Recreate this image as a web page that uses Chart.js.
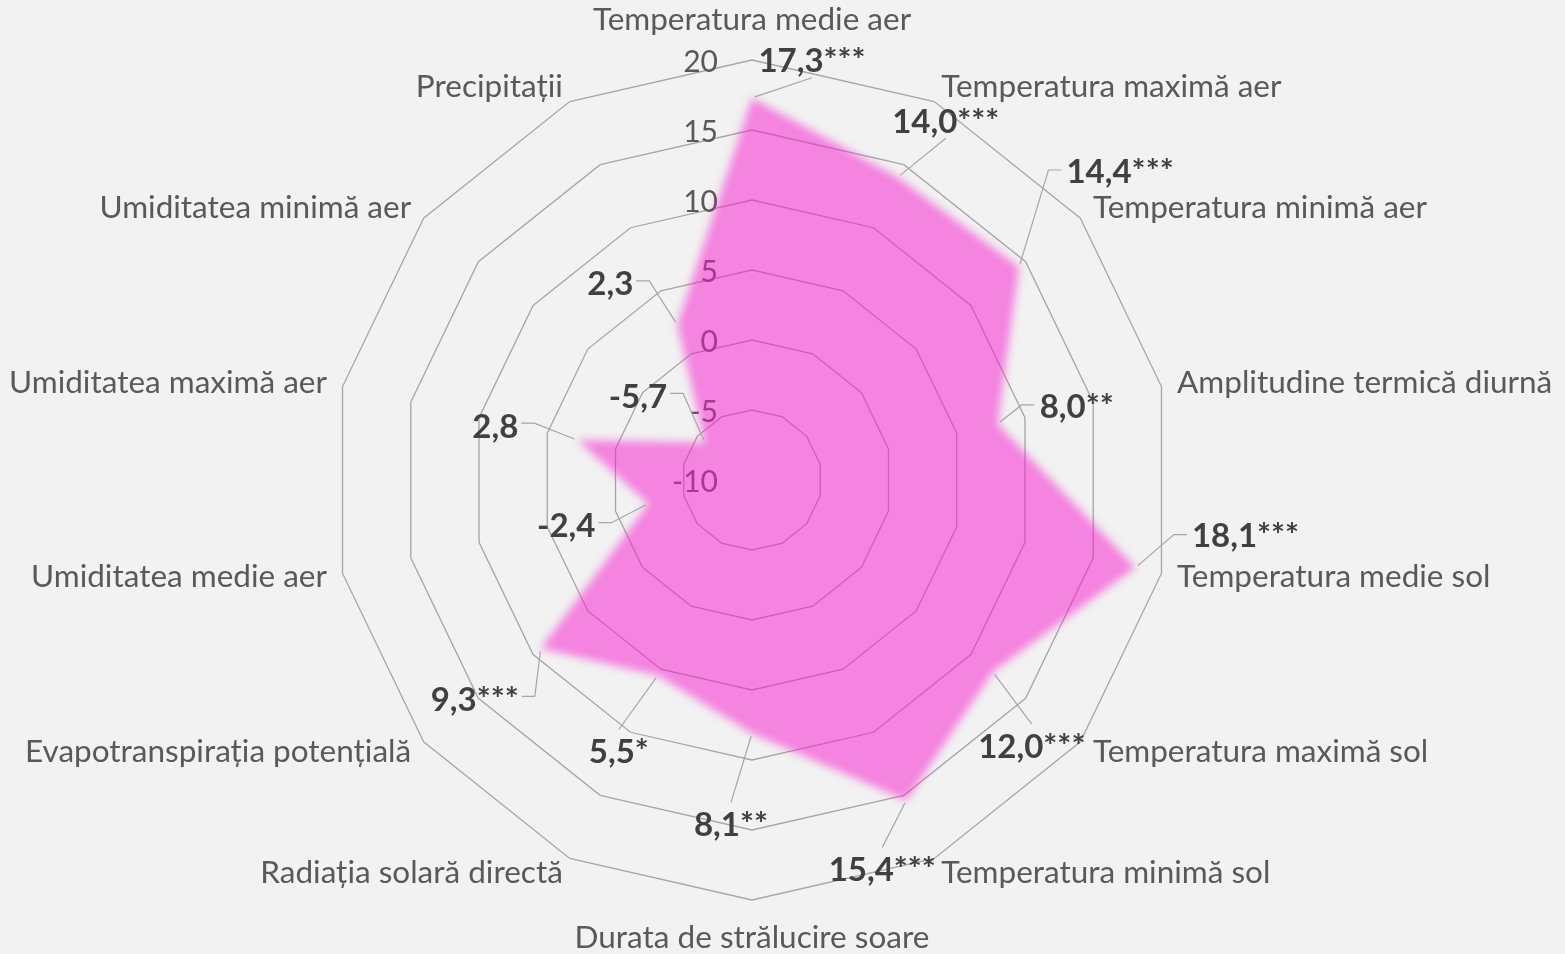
<!DOCTYPE html>
<html>
<head>
<meta charset="utf-8">
<script src="https://cdn.jsdelivr.net/npm/chart.js@4.4.0/dist/chart.umd.min.js"></script>
<style>
  html, body { margin: 0; padding: 0; background: #f2f2f2; }
  #wrap { position: relative; width: 1565px; height: 954px; }
</style>
</head>
<body>
<div id="wrap"><canvas id="myChart"></canvas></div>
<script>
const categories = [
  "Temperatura medie aer", "Temperatura maximă aer", "Temperatura minimă aer",
  "Amplitudine termică diurnă", "Temperatura medie sol", "Temperatura maximă sol",
  "Temperatura minimă sol", "Durata de strălucire soare", "Radiația solară directă",
  "Evapotranspirația potențială", "Umiditatea medie aer", "Umiditatea maximă aer",
  "Umiditatea minimă aer", "Precipitații"
];
const values = [17.3, 14.0, 14.4, 8.0, 18.1, 12.0, 15.4, 8.1, 5.5, 9.3, -2.4, 2.8, -5.7, 2.3];
const significance = ["***", "***", "***", "**", "***", "***", "***", "**", "*", "***", "", "", "", ""];
const tickValues = [-10, -5, 0, 5, 10, 15, 20];

// where each value label sits, relative to its point, and which side the leader leaves from
const labelOffsets = [[60, -36], [48, -55], [101, -95], [79, -17], [110, -31], [39, 75], [-24, 70],
  [-21, 92], [-39, 77], [-66, 52], [-82, 23], [-82, -13], [-67, -45], [-67, -40]];
const leaderSide = ["bottom", "bottom", "left", "left", "left", "top", "top", "top", "top",
  "right", "right", "right", "right", "right"];

const FONT = "Lato, 'Open Sans', sans-serif";

const fmt = (v, i) => v.toFixed(1).replace(".", ",") + significance[i];

const labelsPlugin = {
  id: "radarLabels",
  beforeDatasetsDraw(chart) {
    const ctx = chart.ctx;
    const r = chart.scales.r;
    ctx.save();
    ctx.font = "30px " + FONT;
    ctx.fillStyle = "#595959";
    ctx.textAlign = "right";
    ctx.textBaseline = "middle";
    tickValues.forEach((t) => {
      const p = r.getPointPositionForValue(0, t);
      ctx.fillText(String(t), r.xCenter - 34, p.y + 2);
    });
    ctx.restore();
    // soft edge on the area
    ctx.save();
    ctx.filter = "blur(4px)";
  },
  afterDatasetsDraw(chart) {
    const ctx = chart.ctx;
    ctx.restore();
    const r = chart.scales.r;

    // category labels
    ctx.save();
    ctx.font = "31.5px " + FONT;
    ctx.fillStyle = "#595959";
    ctx.textBaseline = "middle";
    categories.forEach((c, i) => {
      const p = r.getPointPosition(i, r.drawingArea + 16);
      let y = p.y;
      if (Math.abs(p.x - r.xCenter) < 2) {
        ctx.textAlign = "center";
        y += p.y < r.yCenter ? -24 : 22;
      } else {
        ctx.textAlign = p.x > r.xCenter ? "left" : "right";
      }
      ctx.fillText(c, p.x, y);
    });
    ctx.restore();

    // value labels with leader lines
    const meta = chart.getDatasetMeta(0);
    ctx.save();
    ctx.font = "bold 33px " + FONT;
    meta.data.forEach((pt, i) => {
      const text = fmt(values[i], i);
      const w = ctx.measureText(text).width;
      const cx = pt.x + labelOffsets[i][0];
      const cy = pt.y + labelOffsets[i][1];
      let pts;
      const side = leaderSide[i];
      if (side === "left") {
        const x0 = cx - w / 2 - 5;
        pts = [[x0, cy - 2], [x0 - 13, cy - 2]];
      } else if (side === "right") {
        const x0 = cx + w / 2 + 3;
        pts = [[x0, cy - 4], [x0 + 13, cy - 4]];
      } else if (side === "bottom") {
        pts = [[cx, cy + 16]];
      } else {
        pts = [[cx, cy - 23]];
      }
      const last = pts[pts.length - 1];
      const dx = pt.x - last[0], dy = pt.y - last[1];
      const d = Math.hypot(dx, dy);
      pts.push([pt.x - dx / d * 3, pt.y - dy / d * 3]);
      ctx.strokeStyle = "#a6a6a6";
      ctx.lineWidth = 1.2;
      ctx.beginPath();
      pts.forEach((q, k) => (k ? ctx.lineTo(q[0], q[1]) : ctx.moveTo(q[0], q[1])));
      ctx.stroke();

      ctx.fillStyle = "#404040";
      ctx.textAlign = "center";
      ctx.textBaseline = "middle";
      ctx.fillText(text, cx, cy);
    });
    ctx.restore();
  },
};

const config = {
  type: "radar",
  data: {
    labels: categories,
    datasets: [
      {
        data: values,
        backgroundColor: "rgba(248, 20, 205, 0.5)",
        borderWidth: 0,
        pointRadius: 0,
        fill: "start",
      },
    ],
  },
  options: {
    responsive: true,
    maintainAspectRatio: false,
    animation: false,
    layout: { padding: { left: 332, right: 393, top: 60, bottom: 54 } },
    plugins: {
      legend: { display: false },
      tooltip: { enabled: false },
    },
    scales: {
      r: {
        min: -10,
        max: 20,
        ticks: { display: false, stepSize: 5 },
        pointLabels: { display: false },
        angleLines: { display: false },
        grid: { color: "#a6a6a6", lineWidth: 1.3, circular: false },
      },
    },
  },
  plugins: [labelsPlugin],
};

window.addEventListener("DOMContentLoaded", () => {
  const ctx = document.getElementById("myChart");
  new Chart(ctx, config);
});
</script>
</body>
</html>
